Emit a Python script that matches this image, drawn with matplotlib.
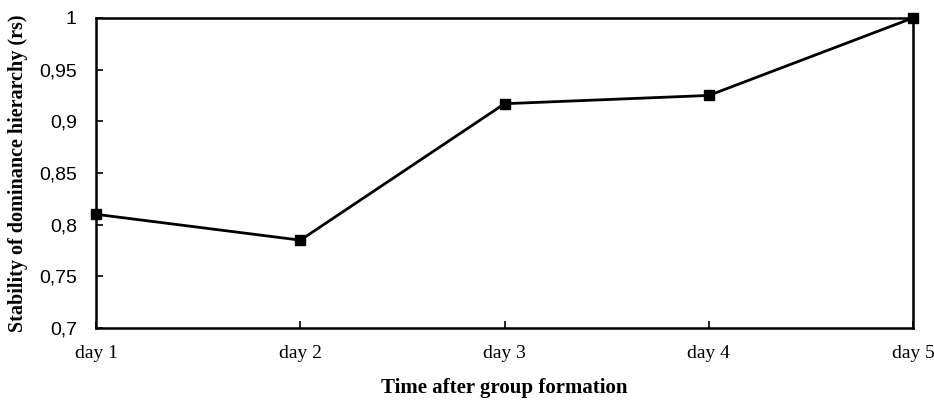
import matplotlib
matplotlib.use("Agg")
import matplotlib.pyplot as plt
from matplotlib.ticker import FuncFormatter

days = ["day 1", "day 2", "day 3", "day 4", "day 5"]
stability = [0.81, 0.785, 0.917, 0.925, 1.0]
y_ticks = [0.7, 0.75, 0.8, 0.85, 0.9, 0.95, 1.0]

fig = plt.figure(figsize=(9.34, 4.07), dpi=100)
ax = fig.add_axes([0.103, 0.194, 0.8745, 0.762])

x = list(range(len(days)))
ax.plot(x, stability, color="black", lw=2, marker="s", markersize=7, clip_on=False, zorder=5)

ax.set_xlim(0, len(days) - 1)
ax.set_ylim(0.7, 1.0)
ax.set_xticks(x)
ax.set_xticklabels(days, fontfamily="Liberation Serif", fontsize=14)
ax.set_yticks(y_ticks)
ax.yaxis.set_major_formatter(FuncFormatter(lambda v, p: ("%g" % round(v, 2)).replace(".", ",")))
for lbl in ax.get_yticklabels():
    lbl.set_fontfamily("Liberation Sans")
    lbl.set_fontsize(14)

ax.tick_params(axis="y", direction="in", length=5, width=1.2, pad=14)
ax.tick_params(axis="x", direction="in", length=5, width=1.2, pad=12)
for s in ax.spines.values():
    s.set_linewidth(1.8)

ax.set_xlabel("Time after group formation", fontfamily="Liberation Serif", fontweight="bold", fontsize=15, labelpad=12)
ax.set_ylabel("Stability of dominance hierarchy (rs)", fontfamily="Liberation Serif", fontweight="bold", fontsize=14.5, labelpad=8)

fig.savefig("out.png", dpi=100)
